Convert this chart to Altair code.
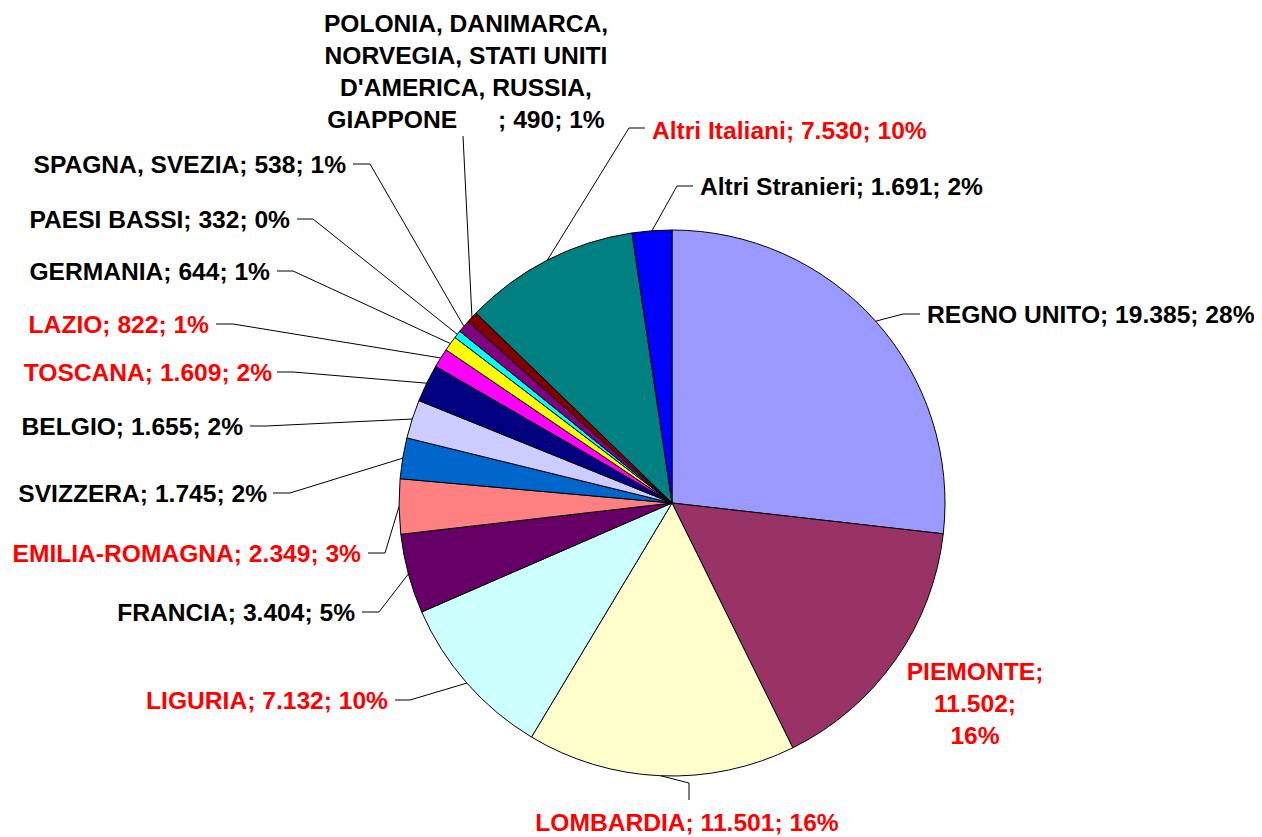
import altair as alt
import pandas as pd

# ---------------- data ----------------
names = ["REGNO UNITO", "PIEMONTE", "LOMBARDIA", "LIGURIA", "FRANCIA",
         "EMILIA-ROMAGNA", "SVIZZERA", "BELGIO", "TOSCANA", "LAZIO",
         "GERMANIA", "PAESI BASSI", "SPAGNA, SVEZIA",
         "POLONIA, DANIMARCA, NORVEGIA, STATI UNITI D'AMERICA, RUSSIA, GIAPPONE",
         "Altri Italiani", "Altri Stranieri"]
values = [19385, 11502, 11501, 7132, 3404, 2349, 1745, 1655, 1609, 822,
          644, 332, 538, 490, 7530, 1691]
percent_labels = ["28%", "16%", "16%", "10%", "5%", "3%", "2%", "2%", "2%",
                  "1%", "1%", "0%", "1%", "1%", "10%", "2%"]
italian = [False, True, True, True, False, True, False, False, True, True,
           False, False, False, False, True, False]
colors = ["#9999FF", "#993366", "#FFFFCC", "#CCFFFF", "#660066", "#FF8080",
          "#0066CC", "#CCCCFF", "#000080", "#FF00FF", "#FFFF00", "#00FFFF",
          "#800080", "#800000", "#008080", "#0000FF"]

def fmt(v):
    return f"{v:,}".replace(",", ".")

labels = [f"{n}; {fmt(v)}; {p}" for n, v, p in zip(names, values, percent_labels)]
label_lines = [[l] for l in labels]
label_lines[1] = ["PIEMONTE;", "11.502;", "16%"]
label_lines[13] = ["POLONIA, DANIMARCA,", "NORVEGIA, STATI UNITI",
                   "D'AMERICA, RUSSIA,",
                   "GIAPPONE\u00a0\u00a0\u00a0\u00a0\u00a0\u00a0; 490; 1%"]

# ---------------- layout (page pixels) ----------------
M = 8
CX, CY, R = 672 - M, 503 - M, 273
LINE_H = 32
FS = 24.6
# align, text x, text y, leader end x, end y, elbow x, elbow y
layout = [
    ("left", 927, 315, 920, 314, 903, 314),
    ("center", 975, 672, None, None, None, None),
    ("center", 687, 823, 689, 800, 689, 783),
    ("right", 388, 701, 395, 700, 410, 700),
    ("right", 355, 613, 362, 612, 379, 612),
    ("right", 361, 554, 368, 553, 385, 553),
    ("right", 267, 494, 273, 493, 290, 493),
    ("right", 243, 427, 250, 426, 266, 426),
    ("right", 272, 373, 277, 372, 293, 372),
    ("right", 209, 325, 216, 324, 233, 324),
    ("right", 270, 272, 277, 271, 293, 271),
    ("right", 290, 220, 297, 219, 313, 219),
    ("right", 346, 165, 353, 164, 370, 164),
    ("center", 466, 24, 463, 136, 463, 136),
    ("left", 652, 131, 645, 128, 629, 128),
    ("left", 700, 187, 693, 186, 677, 186),
]

slices = pd.DataFrame({
    "name": names,
    "value": values,
    "idx": list(range(len(names))),
})

lead_rows = []
for i, (al, tx, ty, ex, ey, bx, by) in enumerate(layout):
    if ex is None:
        continue
    lead_rows.append({"name": names[i], "value": values[i], "idx": i,
                      "end_x": ex - M, "end_y": ey - M,
                      "elb_x": bx - M, "elb_y": by - M})
leads = pd.DataFrame(lead_rows)

text_rows = []
for i, (al, tx, ty, *_rest) in enumerate(layout):
    for k, line in enumerate(label_lines[i]):
        text_rows.append({"line": line, "align": al,
                          "tx": tx - M, "ty": ty - M + 1 + k * LINE_H,
                          "tcolor": "#FF0000" if italian[i] else "#000000"})
texts = pd.DataFrame(text_rows)

# ---------------- chart ----------------
pie = alt.Chart(slices).mark_arc(
    radius=R, stroke="black", strokeWidth=1
).encode(
    theta=alt.Theta("value:Q", stack=True),
    order=alt.Order("idx:Q"),
    color=alt.Color("name:N", scale=alt.Scale(domain=names, range=colors),
                    legend=None),
    x=alt.value(CX),
    y=alt.value(CY),
)

lead_base = alt.Chart(slices).transform_joinaggregate(
    total="sum(value)"
).transform_window(
    cum="sum(value)", sort=[alt.SortField("idx")], frame=[None, 0]
).transform_lookup(
    lookup="idx",
    from_=alt.LookupData(leads, "idx", ["end_x", "end_y", "elb_x", "elb_y"]),
).transform_filter(
    "isValid(datum.end_x)"
).transform_calculate(
    mid="(datum.cum - datum.value / 2) / datum.total * 2 * PI",
).transform_calculate(
    edge_x=f"{CX} + {R} * sin(datum.mid)",
    edge_y=f"{CY} - {R} * cos(datum.mid)",
)

seg1 = lead_base.mark_rule(color="black", strokeWidth=1).encode(
    x=alt.X("edge_x:Q", scale=None),
    y=alt.Y("edge_y:Q", scale=None),
    x2="elb_x:Q",
    y2="elb_y:Q",
)
seg2 = lead_base.mark_rule(color="black", strokeWidth=1).encode(
    x=alt.X("elb_x:Q", scale=None),
    y=alt.Y("elb_y:Q", scale=None),
    x2="end_x:Q",
    y2="end_y:Q",
)

def text_layer(al):
    return alt.Chart(texts).transform_filter(
        alt.datum.align == al
    ).mark_text(
        align=al, baseline="middle", font="Liberation Sans",
        fontWeight="bold", fontSize=FS
    ).encode(
        x=alt.X("tx:Q", scale=None),
        y=alt.Y("ty:Q", scale=None),
        text="line:N",
        color=alt.Color("tcolor:N", scale=None),
    )

chart = alt.layer(
    pie, seg1, seg2, text_layer("left"), text_layer("right"), text_layer("center")
).properties(
    width=1246, height=829, padding=0,
    autosize=alt.AutoSizeParams(type="none"),
).configure_view(stroke=None)

chart.save("out.html", embed_options={"renderer": "svg", "actions": False})
